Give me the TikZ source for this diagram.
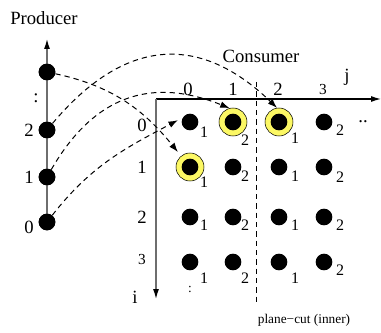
\documentclass[tikz,border=0pt]{standalone}
\usepackage{fontspec}
\setmainfont{Liberation Serif}
\usetikzlibrary{arrows.meta}
\definecolor{hlyellow}{RGB}{252,248,100}
\definecolor{axisgray}{RGB}{110,110,110}
\begin{document}
\begin{tikzpicture}[x=0.75pt,y=0.75pt,
  dot/.style={circle,fill=black,inner sep=0pt,minimum size=12.5pt},
  hl/.style={circle,fill=hlyellow,draw=black,line width=0.4pt,inner sep=0pt,minimum size=21pt},
  lbl/.style={font=\fontsize{14}{14}\selectfont,inner sep=0pt},
  slbl/.style={font=\fontsize{11.5}{12}\selectfont,inner sep=0pt},
  sub/.style={font=\fontsize{12}{12}\selectfont,inner sep=0pt},
  ttl/.style={font=\fontsize{14}{14}\selectfont,inner sep=0pt},
  dashline/.style={line width=0.75pt,dash pattern=on 4pt off 3pt},
  flow/.style={dashline,-{Latex[length=7pt,width=5pt]}},
  axis/.style={line width=0.9pt,-{Latex[length=7.5pt,width=4.5pt]}}
]
\useasboundingbox (0,0) rectangle (381,332);

% ---------- Producer ----------
\node[ttl] (prodT) at (44,314) {Producer};
\coordinate (ptop) at (47,293);
\node[dot] (p0) at (47,110) {};
\node[dot] (p1) at (47,155) {};
\node[dot] (p2) at (47,202) {};
\node[dot] (p3) at (47,260) {};
\draw[axis,axisgray,arrows={-{Latex[length=7.5pt,width=4.5pt,fill=black,color=black]}}] (p0.center) -- (ptop);
\foreach \n in {0,1,2,3} {\node[dot] at (p\n) {};}
\node[lbl] (pl0) at (29,105) {0};
\node[lbl] (pl1) at (29,155) {1};
\node[lbl] (pl2) at (29,202) {2};
\node[lbl] (plc) at (36,234) {:};

% ---------- Consumer ----------
\node[ttl] (consT) at (261,276) {Consumer};
\coordinate (org) at (156,233);
\coordinate (jend) at (381,233);
\coordinate (iend) at (156,33);
\draw[axis,black] (org) -- (jend);
\draw[axis,axisgray,arrows={-{Latex[length=7.5pt,width=4.5pt,fill=black,color=black]}}] (org) -- (iend);
\node[lbl] (jlab) at (347,255) {j};
\node[lbl] (ilab) at (135,35) {i};

% cut line
\coordinate (cutT) at (256,250);
\coordinate (cutB) at (256,29);
\draw[line width=0.75pt,dash pattern=on 4pt off 3pt] (cutT) -- (cutB);
\node[font=\fontsize{10}{10}\selectfont,inner sep=0pt] (cutlab) at (304,12) {plane−cut (inner)};

% column labels
\node[lbl] (cl0) at (188,243) {0};
\node[lbl] (cl1) at (233,243) {1};
\node[lbl] (cl2) at (278,243) {2};
\node[slbl] (cl3) at (323,242) {3};
% row labels
\node[lbl] (rl0) at (142,207) {0};
\node[lbl] (rl1) at (142,165) {1};
\node[lbl] (rl2) at (142,115) {2};
\node[slbl] (rl3) at (142,73) {3};

% highlighted circles
\node[hl] (h01) at (233,210) {};
\node[hl] (h02) at (279,210) {};
\node[hl] (h10) at (190,165) {};

% grid of dots
\foreach \r/\yy in {0/210,1/165,2/115,3/70} {
  \foreach \c/\xx in {0/190,1/233,2/279,3/324} {
    \node[dot] (c\r\c) at (\xx,\yy) {};
  }
}
% subscripts
\foreach \r/\c/\dx/\dy/\t in {
  0/0/14/10/1, 0/1/12/18/2, 0/2/16/16/1, 0/3/16/8/2,
  1/0/14/15/1, 1/1/12/9/2,  1/2/16/9/1,  1/3/16/10/2,
  2/0/14/8/1,  2/1/12/8/2,  2/2/16/8/1,  2/3/16/8/2,
  3/0/14/16/1, 3/1/12/16/2, 3/2/16/16/1, 3/3/16/8/2} {
  \node[sub] (s\r\c) at ([shift={(\dx,-\dy)}]c\r\c.center) {\t};
}
\node[font=\fontsize{10}{10}\selectfont,inner sep=0pt] (vdots) at (190,43) {:};
\node[lbl] (hdots) at (363,210) {..};

% ---------- flows ----------
\draw[flow,shorten >=3.75pt] (p3) to[out=-12,in=129] (h10.129);
\draw[flow] (p2) to[out=50,in=136,looseness=1.25] (h02.98);
\draw[flow] (p1) to[out=60,in=158,looseness=1.15] (h01.104);
\draw[flow,shorten >=4pt] (p0) to[out=52,in=208] (c00.150);
\end{tikzpicture}
\end{document}
